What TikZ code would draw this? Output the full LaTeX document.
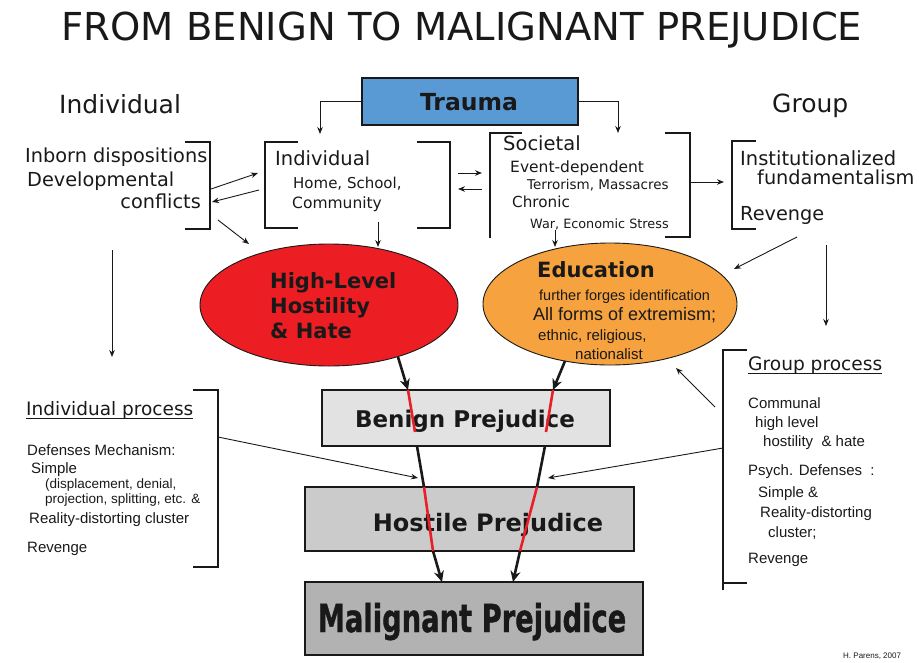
\documentclass[tikz,border=0pt]{standalone}
\usepackage{fontspec}
\setmainfont{DejaVu Sans}
\newfontfamily\arfont{Liberation Sans}
\newfontfamily\heavyfont{DejaVu Sans Bold}[FakeBold=1.2]
\usetikzlibrary{arrows.meta,shapes.geometric}
\definecolor{traumablue}{RGB}{90,154,212}
\definecolor{hatered}{RGB}{236,30,36}
\definecolor{eduorange}{RGB}{246,162,62}
\definecolor{benigngray}{RGB}{226,226,226}
\definecolor{hostilegray}{RGB}{203,203,203}
\definecolor{malgray}{RGB}{178,178,178}
\definecolor{redline}{RGB}{232,30,40}
\definecolor{ink}{RGB}{25,25,25}
\newcommand{\fsz}[1]{\fontsize{#1}{#1}\selectfont}
\begin{document}
\begin{tikzpicture}[x=1pt,y=-1pt,
  lbl/.style={anchor=base west, inner sep=0pt, text=ink},
  lble/.style={anchor=base east, inner sep=0pt, text=ink},
  lblc/.style={anchor=base, inner sep=0pt, text=ink},
  bracket/.style={line width=1.3pt, draw=ink},
  tarrow/.style={line width=0.9pt, draw=ink, -{Stealth[length=7pt,width=5.5pt]}},
  fatarrow/.style={line width=2.6pt, draw=ink, -{Stealth[length=11pt,width=10pt]}},
  fatline/.style={line width=2.6pt, draw=ink},
  redseg/.style={line width=2.6pt, draw=redline},
  boxstyle/.style={draw=ink, line width=1.2pt, inner sep=0pt},
  ell/.style={ellipse, draw=ink, line width=0.9pt, inner sep=0pt},
  ar/.style={font=\arfont\fsz{15}},
  ars/.style={font=\arfont\fsz{13.5}}]
\useasboundingbox (0,0) rectangle (919,662);

% title and headings
\node[lblc, font=\fsz{38.5}] (title) at (462,40) {FROM BENIGN TO MALIGNANT PREJUDICE};
\node[lbl, font=\fsz{25}] (hind) at (59,113) {Individual};
\node[lbl, font=\fsz{25}] (hgrp) at (772,112) {Group};

% trauma
\node[boxstyle, fill=traumablue, minimum width=216pt, minimum height=47pt] (trauma) at (470,101.5) {};
\node[lblc, font=\bfseries\fsz{23.5}] (traumatxt) at (469,110) {Trauma};

% left group
\node[lbl, font=\fsz{19.3}] (inborn) at (25,162) {Inborn dispositions};
\node[lbl, font=\fsz{19.3}] (devel) at (27,186) {Developmental};
\node[lble, font=\fsz{19.3}] (confl) at (201,208) {conflicts};
\draw[bracket] (185,142) -- (210,142) -- (210,229) -- (185,229);

% individual box
\draw[bracket] (298,142) -- (265,142) -- (265,228) -- (298,228);
\draw[bracket] (417,142) -- (450,142) -- (450,228) -- (417,228);
\node[lbl, font=\fsz{19.5}] (indiv) at (275,165) {Individual};
\node[lbl, font=\fsz{15}] (home) at (293,188) {Home, School,};
\node[lbl, font=\fsz{15.5}] (comm) at (292,208) {Community};

% societal
\draw[bracket] (522,133) -- (490,133) -- (490,238);
\draw[bracket] (665,133) -- (690,133) -- (690,237) -- (665,237);
\node[lbl, font=\fsz{19.5}] (soc) at (503,150) {Societal};
\node[lbl, font=\fsz{15.5}] (event) at (510,172) {Event-dependent};
\node[lbl, font=\fsz{13.5}] (terr) at (527,189) {Terrorism, Massacres};
\node[lbl, font=\fsz{15.2}] (chron) at (512,207) {Chronic};
\node[lbl, font=\fsz{12.8}] (war) at (530,228) {War, Economic Stress};

% right group
\draw[bracket] (756,141) -- (732,141) -- (732,229) -- (756,229);
\node[lbl, font=\fsz{19.5}] (inst) at (740,165) {Institutionalized};
\node[lbl, font=\fsz{19.3}] (fund) at (757,184) {fundamentalism};
\node[lbl, font=\fsz{19.3}] (rev1) at (740,220) {Revenge};

% ellipses
\node[ell, fill=hatered, minimum width=258pt, minimum height=122pt] (hate) at (329,305) {};
\node[ell, fill=eduorange, minimum width=254pt, minimum height=122pt] (edu) at (610,304) {};
\node[lbl, font=\bfseries\fsz{21}] (hl1) at (270,288) {High-Level};
\node[lbl, font=\bfseries\fsz{21}] (hl2) at (270,313) {Hostility};
\node[lbl, font=\bfseries\fsz{21}] (hl3) at (270,338) {\& Hate};
\node[lbl, font=\bfseries\fsz{21}] (edut) at (537,277) {Education};
\node[lbl, font=\arfont\fsz{14.5}] (ed1) at (539,300) {further forges identification};
\node[lbl, font=\arfont\fsz{18}] (ed2) at (533,320) {All forms of extremism;};
\node[lbl, font=\arfont\fsz{15}] (ed3) at (538,340) {ethnic, religious,};
\node[lbl, font=\arfont\fsz{15}] (ed4) at (575,359) {nationalist};

% prejudice boxes
\node[boxstyle, fill=benigngray, minimum width=288pt, minimum height=56pt] (benign) at (466,418) {};
\node[boxstyle, fill=hostilegray, minimum width=329pt, minimum height=64pt] (hostile) at (469.5,519) {};
\node[boxstyle, fill=malgray, minimum width=338pt, minimum height=73pt] (malig) at (474,618.5) {};
\node[lblc, font=\bfseries\fsz{23}] (bent) at (465,427) {Benign Prejudice};
\node[lblc, font=\bfseries\fsz{24}] (host) at (488,531) {Hostile Prejudice};
\node[lblc, font=\heavyfont\fsz{38.5}] (malt) at (472,632) {\scalebox{0.71}[1]{Malignant Prejudice}};

% individual process
\draw[bracket] (193,390) -- (218,390) -- (218,567) -- (193,567);
\node[lbl, font=\fsz{18.5}] (ip) at (26,415) {Individual process};
\draw[line width=1pt, ink] ([yshift=-3pt]ip.base west) -- ([yshift=-3pt]ip.base east);
\node[lbl, ar] (ip1) at (27,455) {Defenses Mechanism:};
\node[lbl, ar] (ip2) at (31,473) {Simple};
\node[lbl, ars] (ip3) at (45,488) {(displacement, denial,};
\node[lbl, ars] (ip4) at (45,503) {projection, splitting, etc. \&};
\node[lbl, ar] (ip5) at (29,523) {Reality-distorting cluster};
\node[lbl, ar] (ip6) at (27,552) {Revenge};

% group process
\draw[bracket] (747,350) -- (723,350) -- (723,590);
\draw[bracket] (723,583) -- (747,583);
\node[lbl, font=\fsz{18.6}] (gp) at (748,370) {Group process};
\draw[line width=1pt, ink] ([yshift=-3pt]gp.base west) -- ([yshift=-3pt]gp.base east);
\node[lbl, ar] (gp1) at (748,408) {Communal};
\node[lbl, ar] (gp2) at (755,427) {high level};
\node[lbl, ar] (gp3) at (763,446) {hostility \ \& hate};
\node[lbl, ar] (gp4) at (748,475) {Psych. Defenses \ :};
\node[lbl, ar] (gp5) at (758,497) {Simple \&};
\node[lbl, ar] (gp6) at (760,517) {Reality-distorting};
\node[lbl, ar] (gp7) at (768,537) {cluster;};
\node[lbl, ar] (gp8) at (748,563) {Revenge};

\node[lbl, font=\arfont\fsz{8}] (sig) at (843,658) {H. Parens, 2007};

% thin connectors
\coordinate (indin) at (320,134);
\coordinate (socin) at (618,133);
\draw[tarrow] (trauma.west) -| (indin);
\draw[tarrow] (trauma.east) -| (socin);
\coordinate (lgR1) at (211,189); \coordinate (ibL1) at (258,173);
\draw[tarrow] (lgR1) -- (ibL1);
\coordinate (ibL2) at (259,190); \coordinate (lgR2) at (212,202);
\draw[tarrow] (ibL2) -- (lgR2);
\coordinate (lgB) at (218,220); \coordinate (hateTL) at (249,244);
\draw[tarrow] (lgB) -- (hateTL);
\coordinate (ibB) at (378,222); \coordinate (hateT) at (378,247);
\draw[tarrow] (ibB) -- (hateT);
\coordinate (ibR1) at (458,173); \coordinate (socL1) at (482,173);
\draw[tarrow] (ibR1) -- (socL1);
\coordinate (socL2) at (482,189); \coordinate (ibR2) at (458,189);
\draw[tarrow] (socL2) -- (ibR2);
\coordinate (socB) at (555,230); \coordinate (eduT) at (555,247);
\draw[tarrow] (socB) -- (eduT);
\coordinate (socR) at (690,182); \coordinate (rgL) at (724,182);
\draw[tarrow] (socR) -- (rgL);
\coordinate (rgB) at (797,237); \coordinate (eduR) at (734,269);
\draw[tarrow] (rgB) -- (eduR);
\coordinate (rgD) at (826,245); \coordinate (gpT) at (826,326);
\draw[tarrow] (rgD) -- (gpT);
\coordinate (lgD) at (112,250); \coordinate (ipT) at (112,357);
\draw[tarrow] (lgD) -- (ipT);
\coordinate (ipR) at (218,437); \coordinate (hostL) at (418,478);
\draw[tarrow] (ipR) -- (hostL);
\coordinate (gpL) at (723,448); \coordinate (hostR) at (548,478);
\draw[tarrow] (gpL) -- (hostR);
\coordinate (gpE) at (715,407); \coordinate (eduBR) at (676,368);
\draw[tarrow] (gpE) -- (eduBR);

% thick connectors
\coordinate (a0) at (398,357); \coordinate (a1) at (408,390);
\coordinate (a2) at (415,432); \coordinate (a3) at (417,446);
\coordinate (a4) at (424,487); \coordinate (a5) at (433,551);
\coordinate (a6) at (442,582);
\coordinate (b0) at (565,361); \coordinate (b1) at (553,390);
\coordinate (b2) at (546,432); \coordinate (b3) at (545,446);
\coordinate (b4) at (537,487); \coordinate (b5) at (520,551);
\coordinate (b6) at (513,582);
\draw[fatarrow] (a0) -- (a1);
\draw[redseg] (a1) -- (a2);
\draw[fatline] (a3) -- (a4);
\draw[redseg] (a4) -- (a5);
\draw[fatarrow] (a5) -- (a6);
\draw[fatarrow] (b0) -- (b1);
\draw[redseg] (b1) -- (b2);
\draw[fatline] (b3) -- (b4);
\draw[redseg] (b4) -- (b5);
\draw[fatarrow] (b5) -- (b6);
\end{tikzpicture}
\end{document}
